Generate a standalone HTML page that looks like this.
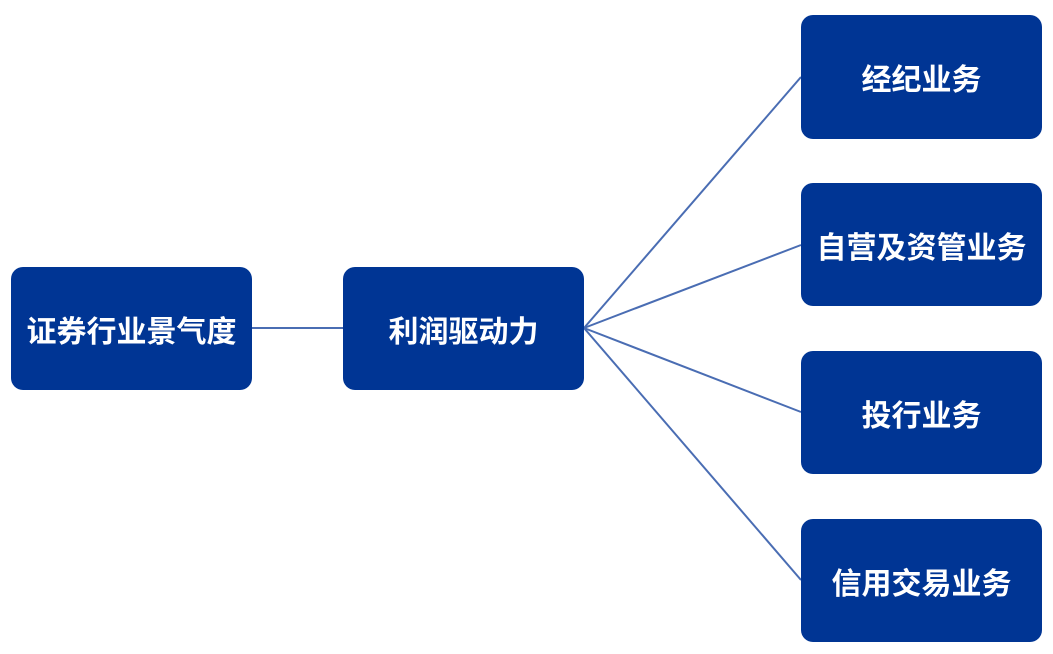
<!DOCTYPE html>
<html><head><meta charset="utf-8"><style>
body{margin:0;width:1053px;height:654px;background:#fff;position:relative;overflow:hidden;font-family:"Liberation Sans","Noto Sans CJK SC",sans-serif}
.b{position:absolute;width:241px;background:#003594;border-radius:12px;color:#fff;font-weight:bold;font-size:30px;display:flex;align-items:center;justify-content:center;letter-spacing:0px}
svg{position:absolute;left:0;top:0}
</style></head><body>
<svg width="1053" height="654"><g stroke="#4a6db3" stroke-width="2" fill="none">
<line x1="252" y1="328" x2="343" y2="328"/>
<line x1="584" y1="328" x2="801" y2="77"/>
<line x1="584" y1="328" x2="801" y2="245"/>
<line x1="584" y1="328" x2="801" y2="412"/>
<line x1="584" y1="328" x2="801" y2="580"/>
</g></svg>
<div class="b" style="left:11px;top:267px;height:123px">证券行业景气度</div>
<div class="b" style="left:343px;top:267px;height:123px">利润驱动力</div>
<div class="b" style="left:801px;top:15px;height:124px">经纪业务</div>
<div class="b" style="left:801px;top:183px;height:123px">自营及资管业务</div>
<div class="b" style="left:801px;top:351px;height:123px">投行业务</div>
<div class="b" style="left:801px;top:519px;height:123px">信用交易业务</div>
</body></html>
